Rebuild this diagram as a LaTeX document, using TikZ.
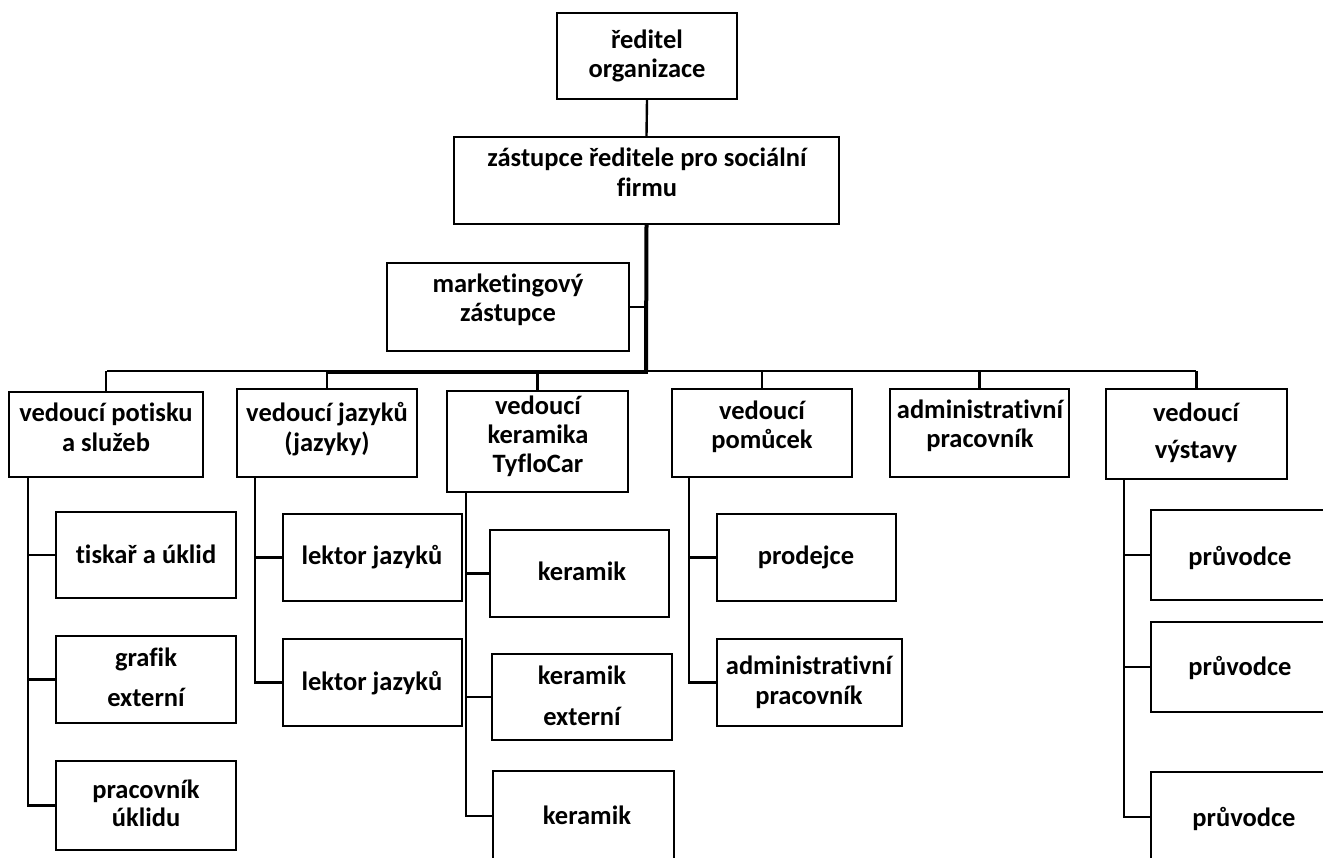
\documentclass[tikz,border=0pt]{standalone}
\usepackage{fontspec}
\setmainfont{Carlito}[Ligatures=NoCommon]
\usetikzlibrary{fit,calc}
\tikzset{
  orgbox/.style={draw, line width=2.4pt, inner sep=0pt, fill=none},
  txt/.style={anchor=base, inner sep=0pt, align=center, font=\fontsize{26.5}{29}\selectfont\bfseries},
  con/.style={line width=2.4pt},
  thickcon/.style={line width=4pt},
}
\begin{document}
\begin{tikzpicture}[x=1pt,y=-1pt]
\useasboundingbox (0,0) rectangle (1323,858);
\clip (0,0) rectangle (1323,858);
\fill[white] (0,0) rectangle (1323,858);
% boxes
\node[orgbox, fit={(557,13)(737,99)}] (reditel) {};
\node[orgbox, fit={(454,137)(839,224)}] (zastupce) {};
\node[orgbox, fit={(387,263)(629,351)}] (marketing) {};
\node[orgbox, fit={(9,392)(203,477)}] (potisku) {};
\node[orgbox, fit={(237,389)(417,477)}] (jazyky) {};
\node[orgbox, fit={(447,391)(628,492)}] (keramika) {};
\node[orgbox, fit={(672,389)(852,477)}] (pomucek) {};
\node[orgbox, fit={(890,389)(1069,477)}] (admin) {};
\node[orgbox, fit={(1106,389)(1287,479)}] (vystavy) {};
\node[orgbox, fit={(56,512)(236,598)}] (tiskar) {};
\node[orgbox, fit={(56,636)(236,723)}] (grafik) {};
\node[orgbox, fit={(56,761)(236,850)}] (uklid) {};
\node[orgbox, fit={(283,514)(462,601)}] (lektorA) {};
\node[orgbox, fit={(283,639)(462,726)}] (lektorB) {};
\node[orgbox, fit={(490,530)(669,617)}] (keramikA) {};
\node[orgbox, fit={(492,654)(672,740)}] (keramikB) {};
\node[orgbox, fit={(493,771)(674,861)}] (keramikC) {};
\node[orgbox, fit={(717,514)(896,601)}] (prodejce) {};
\node[orgbox, fit={(717,639)(902,726)}] (admin2) {};
\node[orgbox, fit={(1151,510)(1331,600)}] (pruvA) {};
\node[orgbox, fit={(1151,622)(1331,712)}] (pruvB) {};
\node[orgbox, fit={(1151,772)(1331,862)}] (pruvC) {};
% texts (anchor = baseline of the last line)
\node[txt] (t-reditel) at (647,78) {ředitel\\organizace};
\node[txt] (t-zastupce) at (647,197) {zástupce ředitele pro sociální\\[1pt]firmu};
\node[txt] (t-marketing) at (508,322) {marketingový\\zástupce};
\node[txt] (t-potisku) at (106,451) {vedoucí potisku\\a služeb};
\node[txt] (t-jazyky) at (327,451) {vedoucí jazyků\\(jazyky)};
\node[txt] (t-keramika) at (538,472) {vedoucí\\keramika\\TyfloCar};
\node[txt] (t-pomucek) at (762,449) {vedoucí\\pomůcek};
\node[txt] (t-admin) at (980,448) {administrativní\\pracovník};
\node[txt] (t-vystavy) at (1196,458) {vedoucí\\[7pt]výstavy};
\node[txt] (t-tiskar) at (146,563) {tiskař a úklid};
\node[txt] (t-grafik) at (146,706) {grafik\\[11pt]externí};
\node[txt] (t-uklid) at (146,826) {pracovník\\[-1pt]úklidu};
\node[txt] (t-lektorA) at (372,564) {lektor jazyků};
\node[txt] (t-lektorB) at (372,690) {lektor jazyků};
\node[txt] (t-keramikA) at (582,580) {keramik};
\node[txt] (t-keramikB) at (582,725) {keramik\\[12pt]externí};
\node[txt] (t-keramikC) at (587,824) {keramik};
\node[txt] (t-prodejce) at (806,564) {prodejce};
\node[txt] (t-admin2) at (809,704) {administrativní\\[1pt]pracovník};
\node[txt] (t-pruvA) at (1240,565) {průvodce};
\node[txt] (t-pruvB) at (1240,675) {průvodce};
\node[txt] (t-pruvC) at (1244,826) {průvodce};
% bus coordinates
\coordinate (busL) at (107,371);
\coordinate (busR) at (1196,371);
\coordinate (busM) at (646,372);
\coordinate (busT) at (327,372);
% top connectors
\draw[con] (reditel.south) -- (zastupce.north);
\draw[thickcon] (zastupce.south) -- (busM);
\draw[con] (marketing.east) -- (marketing.east -| busM);
\draw[con] (busL) -- (busR);
\draw[thickcon] (busT) -- ($(busM)+(2,0)$);
% drops
\draw[con] (potisku.north) -- (potisku.north |- busL);
\draw[con] (jazyky.north) -- (jazyky.north |- busL);
\draw[con] (keramika.north) -- (keramika.north |- busL);
\draw[con] (pomucek.north) -- (pomucek.north |- busL);
\draw[con] (admin.north) -- (admin.north |- busL);
\draw[con] (vystavy.north) -- (vystavy.north |- busL);
% spines
\coordinate (sp1) at ($(potisku.south west)+(20,0)$);
\draw[con] (sp1) |- (uklid.west);
\draw[con] (sp1 |- tiskar.west) -- (tiskar.west);
\draw[con] (sp1 |- grafik.west) -- (grafik.west);
\coordinate (sp2) at ($(jazyky.south west)+(19,0)$);
\draw[con] (sp2) |- (lektorB.west);
\draw[con] (sp2 |- lektorA.west) -- (lektorA.west);
\coordinate (sp3) at ($(keramika.south west)+(20,0)$);
\draw[con] (sp3) |- (keramikC.west);
\draw[con] (sp3 |- keramikA.west) -- (keramikA.west);
\draw[con] (sp3 |- keramikB.west) -- (keramikB.west);
\coordinate (sp4) at ($(pomucek.south west)+(18,0)$);
\draw[con] (sp4) |- (admin2.west);
\draw[con] (sp4 |- prodejce.west) -- (prodejce.west);
\coordinate (sp5) at ($(vystavy.south west)+(19,0)$);
\draw[con] (sp5) |- (pruvC.west);
\draw[con] (sp5 |- pruvA.west) -- (pruvA.west);
\draw[con] (sp5 |- pruvB.west) -- (pruvB.west);
\end{tikzpicture}
\end{document}
